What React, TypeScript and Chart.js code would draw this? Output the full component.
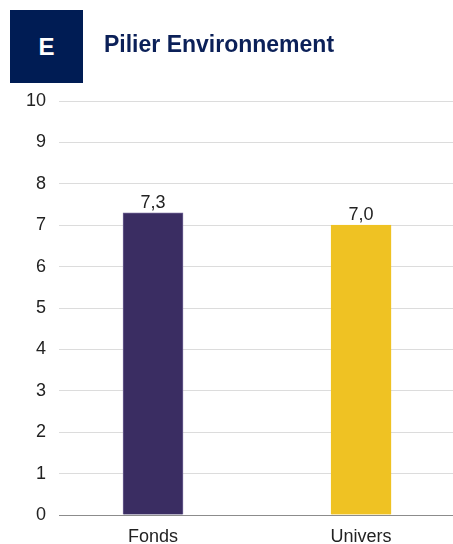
import React, { useEffect, useRef } from "react";
import { Chart, registerables } from "chart.js";

Chart.register(...registerables);

const categories = ["Fonds", "Univers"];
const scores = [7.3, 7.0];
const barColors = ["#3a2d62", "#efc223"];
const barBorders = ["#6e6192", "#efc223"];
const yTicks = [0, 1, 2, 3, 4, 5, 6, 7, 8, 9, 10];

const FONT = "'Liberation Sans', Arial, sans-serif";

const valueLabels = {
  id: "valueLabels",
  afterDatasetsDraw(chart: any) {
    const ctx = chart.ctx;
    const meta = chart.getDatasetMeta(0);
    ctx.save();
    ctx.font = "18px " + FONT;
    ctx.fillStyle = "#222222";
    ctx.textAlign = "center";
    ctx.textBaseline = "alphabetic";
    meta.data.forEach((bar: any, i: number) => {
      const v = chart.data.datasets[0].data[i].y as number;
      ctx.fillText(v.toFixed(1).replace(".", ","), bar.x, bar.y - 5);
    });
    ctx.restore();
  },
};

export default function App() {
  const ref = useRef<HTMLCanvasElement>(null);
  useEffect(() => {
    if (!ref.current) return;
    const chart = new Chart(ref.current, {
      type: "bar",
      data: {
        datasets: [
          {
            data: categories.map((c, i) => ({ x: i, y: scores[i] })),
            backgroundColor: barColors,
            borderColor: barBorders,
            borderWidth: 1,
            barThickness: 60,
          },
        ],
      },
      options: {
        animation: false,
        responsive: false,
        maintainAspectRatio: false,
        layout: { padding: { top: 101, right: 0, bottom: 0, left: 0 } },
        plugins: { legend: { display: false }, tooltip: { enabled: false } },
        scales: {
          x: {
            type: "linear",
            offset: false,
            bounds: "ticks",
            min: -0.452,
            max: 1.442,
            afterBuildTicks: (axis: any) => {
              axis.ticks = categories.map((_, i) => ({ value: i }));
            },
            afterDataLimits: (axis: any) => {
              axis.min = -0.452;
              axis.max = 1.442;
            },
            afterFit: (axis: any) => {
              axis.height = 29;
            },
            grid: { display: false, drawTicks: false, offset: false },
            border: { display: true, color: "#8c8c8c", width: 1 },
            ticks: {
              padding: 11,
              color: "#222222",
              font: { size: 18, family: FONT },
              callback: (v: any) => categories[Number(v)] ?? "",
              maxRotation: 0,
              autoSkip: false,
            },
          },
          y: {
            min: 0,
            max: 10,
            afterBuildTicks: (axis: any) => {
              axis.ticks = yTicks.map((v) => ({ value: v }));
            },
            afterFit: (axis: any) => {
              axis.width = 59;
            },
            grid: { color: "#dcdcdc", drawTicks: false, lineWidth: 1 },
            border: { display: false },
            ticks: {
              padding: 13,
              color: "#222222",
              font: { size: 18, family: FONT },
            },
          },
        },
      },
      plugins: [valueLabels],
    });
    return () => chart.destroy();
  }, []);

  return (
    <div
      style={{
        position: "absolute",
        left: 0,
        top: 0,
        width: 453,
        height: 544,
        overflow: "hidden",
        background: "#ffffff",
      }}
    >
      <canvas ref={ref} width={453} height={544} style={{ position: "absolute", left: 0, top: 0 }} />
      <div
        style={{
          position: "absolute",
          left: 10,
          top: 10,
          width: 73,
          height: 73,
          background: "#001c54",
          color: "#ffffff",
          fontFamily: FONT,
          fontWeight: "bold",
          fontSize: 24,
          lineHeight: "73px",
          textAlign: "center",
        }}
      >
        E
      </div>
      <div
        style={{
          position: "absolute",
          left: 104,
          top: 29,
          color: "#0b2058",
          fontFamily: FONT,
          fontWeight: "bold",
          fontSize: 23,
          lineHeight: "30px",
          whiteSpace: "nowrap",
        }}
      >
        Pilier Environnement
      </div>
    </div>
  );
}
